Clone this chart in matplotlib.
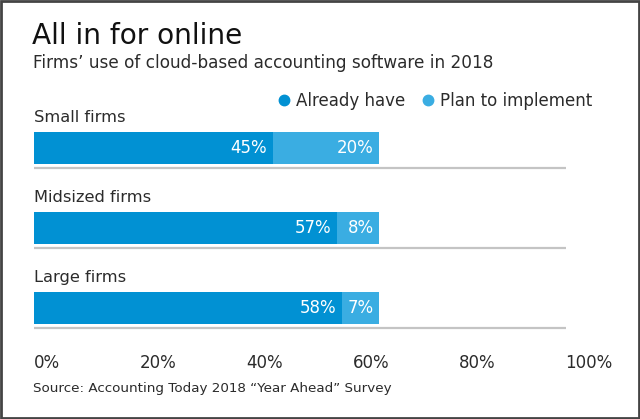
import matplotlib.pyplot as plt
from matplotlib.lines import Line2D
from matplotlib.patches import Rectangle

# data
firms = ['Small firms', 'Midsized firms', 'Large firms']
alreadyHave = [45, 57, 58]
planToImplement = [20, 8, 7]
xTicks = [0, 20, 40, 60, 80, 100]
xTickLbls = ['0%', '20%', '40%', '60%', '80%', '100%']

DARK = '#0191d3'
LIGHT = '#3aade2'
TXT = '#2b2b2b'

plt.rcParams['font.family'] = ['DejaVu Sans']

W, H = 640, 419
fig = plt.figure(figsize=(W / 100, H / 100), dpi=100)

def fx(px):
    return px / W

def fy(py):
    return 1 - py / H

FS = 12

# axis: x 0..100 maps to pixels 33.5..565.5, rows are 80px apart
ax = fig.add_axes([fx(33.5), fy(348), fx(565.5) - fx(33.5), (348 - 108) / H])
ax.set_xlim(0, 100)
ax.set_ylim(2.5, -0.5)

for i, (name, a, p) in enumerate(zip(firms, alreadyHave, planToImplement)):
    ax.barh(i, a, height=0.4, color=DARK, linewidth=0)
    ax.barh(i, p, left=a, height=0.4, color=LIGHT, linewidth=0)
    ax.plot([0, 100], [i + 0.25, i + 0.25], color='#c4c4c4', lw=1.6, solid_capstyle='butt')
    ax.text(0, i - 0.325, name, ha='left', va='baseline', fontsize=11.7, color=TXT)
    ax.annotate(f'{a}%', (a, i), xytext=(-4, 0), textcoords='offset points',
                ha='right', va='center', color='white', fontsize=FS)
    ax.annotate(f'{p}%', (a + p, i), xytext=(-4, 0), textcoords='offset points',
                ha='right', va='center', color='white', fontsize=FS)

ax.set_xticks(xTicks)
ax.set_xticklabels(xTickLbls, ha='left', fontsize=FS, color=TXT)
ax.set_yticks([])
ax.tick_params(axis='x', length=0, pad=4)
for s in ax.spines.values():
    s.set_visible(False)
ax.patch.set_alpha(0)

# titles
fig.text(fx(32), fy(36), 'All in for online', fontsize=20.2,
         color='#111111', ha='left', va='center')
fig.text(fx(33), fy(63), 'Firms\u2019 use of cloud-based accounting software in 2018',
         fontsize=12.2, color=TXT, ha='left', va='center')

# legend
handles = [Line2D([], [], marker='o', ls='', color=DARK, markersize=7.5),
           Line2D([], [], marker='o', ls='', color=LIGHT, markersize=7.5)]
fig.legend(handles, ['Already have', 'Plan to implement'], loc='center right',
           bbox_to_anchor=(fx(592), fy(101)), ncol=2, frameon=False, fontsize=FS,
           handlelength=0.8, handletextpad=0.33, columnspacing=0.95,
           labelcolor=TXT, borderaxespad=0, borderpad=0)

fig.text(fx(33), fy(388), 'Source: Accounting Today 2018 \u201cYear Ahead\u201d Survey',
         fontsize=9.7, color=TXT, ha='left', va='center')

fig.patches.append(Rectangle((0.001, 0.002), 0.997, 0.995, transform=fig.transFigure,
                             fill=False, edgecolor='#444444', lw=2))

fig.savefig('out.png', dpi=100)
